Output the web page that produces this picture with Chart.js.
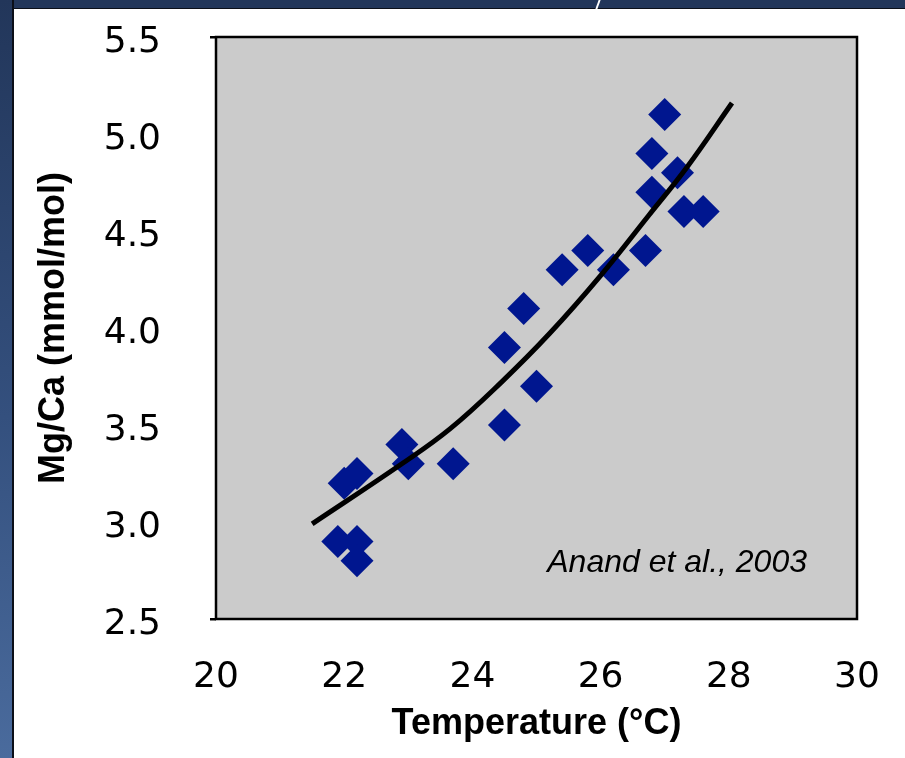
<!DOCTYPE html>
<html>
<head>
<meta charset="utf-8">
<script src="https://cdn.jsdelivr.net/npm/chart.js@4.4.1/dist/chart.umd.min.js"></script>
<style>
  html, body { margin: 0; padding: 0; background: #fff; overflow: hidden; }
  #wrap { position: relative; width: 905px; height: 758px; }
  .band-top { position: absolute; left: 0; top: 0; width: 905px; height: 8px; background: #22365a; border-bottom: 1px solid #0b0f18; }
  .band-left { position: absolute; left: 0; top: 0; width: 12px; height: 758px;
    background: linear-gradient(#22365a, #34507e 55%, #4a6b9d); border-right: 2px solid #0b0f18; }
  .slash { position: absolute; left: 597px; top: 0; width: 2px; height: 9px; background: #fff; transform: skewX(-20deg); }
  canvas { position: absolute; left: 0; top: 0; }
</style>
</head>
<body>
<div id="wrap">
  <div class="band-top"></div>
  <div class="band-left"></div>
  <div class="slash"></div>
  <canvas id="mgcaChart" width="905" height="758"></canvas>
</div>
<script>
// measured foram points
const tempC = [21.9, 22.2, 22.2, 22.0, 22.2, 22.9, 23.0, 23.7, 24.5, 24.5, 24.8,
               25.0, 25.4, 25.8, 26.2, 26.7, 26.8, 26.8, 27.0, 27.2, 27.3, 27.6];
const mgCa = [2.9, 2.9, 2.8, 3.2, 3.25, 3.4, 3.3, 3.3, 3.5, 3.9, 4.1,
              3.7, 4.3, 4.4, 4.3, 4.4, 4.7, 4.9, 5.1, 4.8, 4.6, 4.6];

// calibration curve
const fitTemp = [21.5, 22.9, 23.65, 24.45, 25.2, 26.0, 26.75, 27.35, 28.05];
const fitMgCa = [2.99, 3.30, 3.48, 3.72, 3.97, 4.27, 4.58, 4.83, 5.16];

const xRange = [20, 30];
const yRange = [2.5, 5.5];
const xStep = 2;
const yStep = 0.5;

const citation = "Anand et al., 2003";
const citationAt = [29.22, 2.74];

const tickFont = { family: "'DejaVu Sans', Verdana, sans-serif", size: 36 };
const titleFont = { family: "'Liberation Sans', Arial, sans-serif", size: 36, weight: "bold" };

// gray plot area + black frame
const plotFrame = {
  id: "plotFrame",
  beforeDatasetsDraw(chart) {
    const { ctx, chartArea: a } = chart;
    ctx.save();
    ctx.fillStyle = "#cbcbcb";
    ctx.fillRect(a.left, a.top, a.right - a.left, a.bottom - a.top);
    ctx.strokeStyle = "#000";
    ctx.lineWidth = 2.5;
    ctx.strokeRect(a.left, a.top, a.right - a.left, a.bottom - a.top);
    ctx.restore();
  },
  afterDatasetsDraw(chart) {
    const { ctx, scales } = chart;
    ctx.save();
    ctx.font = "italic 32px 'Liberation Sans', Arial, sans-serif";
    ctx.fillStyle = "#000";
    ctx.textAlign = "right";
    ctx.textBaseline = "alphabetic";
    ctx.fillText(citation, scales.x.getPixelForValue(citationAt[0]), scales.y.getPixelForValue(citationAt[1]));
    ctx.restore();
  }
};

const ctx = document.getElementById("mgcaChart").getContext("2d");
new Chart(ctx, {
  type: "scatter",
  data: {
    datasets: [
      {
        label: "fit",
        type: "line",
        data: fitTemp.map((t, i) => ({ x: t, y: fitMgCa[i] })),
        borderColor: "#000",
        borderWidth: 5,
        pointRadius: 0,
        fill: false,
        tension: 0.4
      },
      {
        label: "Mg/Ca",
        data: tempC.map((t, i) => ({ x: t, y: mgCa[i] })),
        pointStyle: "rectRot",
        pointRadius: 16.5,
        pointHoverRadius: 16.5,
        backgroundColor: "#00168f",
        borderColor: "#00168f",
        borderWidth: 0
      }
    ]
  },
  options: {
    responsive: false,
    devicePixelRatio: 1,
    animation: false,
    layout: { padding: { top: 37, right: 48, left: 0, bottom: 0 } },
    plugins: { legend: { display: false }, tooltip: { enabled: false } },
    scales: {
      x: {
        type: "linear",
        min: xRange[0],
        max: xRange[1],
        ticks: { stepSize: xStep, font: tickFont, color: "#000", padding: 31 },
        grid: { drawOnChartArea: false, drawTicks: true, tickLength: 6, color: "transparent" },
        border: { display: false },
        title: { display: true, text: "Temperature (°C)", font: titleFont, color: "#000", padding: { top: 0, bottom: 12 } },
        afterFit(scale) {
          scale.height = 139;
          scale.paddingLeft = 0;
          scale.paddingRight = 0;
        }
      },
      y: {
        type: "linear",
        min: yRange[0],
        max: yRange[1],
        ticks: { stepSize: yStep, font: tickFont, color: "#000", padding: 49, labelOffset: 6,
                 callback: (v) => v.toFixed(1) },
        grid: {
          drawOnChartArea: false,
          drawTicks: true,
          tickLength: 6,
          lineWidth: 2.5,
          color: (c) => (c.index === 0 || c.tick && c.tick.value === yRange[1]) ? "#000" : "transparent"
        },
        border: { display: false },
        title: { display: true, text: "Mg/Ca (mmol/mol)", font: titleFont, color: "#000", padding: { top: 32, bottom: 0 } },
        afterFit(scale) {
          scale.width = 216;
          scale.paddingTop = 0;
          scale.paddingBottom = 0;
        }
      }
    }
  },
  plugins: [plotFrame]
});
</script>
</body>
</html>
